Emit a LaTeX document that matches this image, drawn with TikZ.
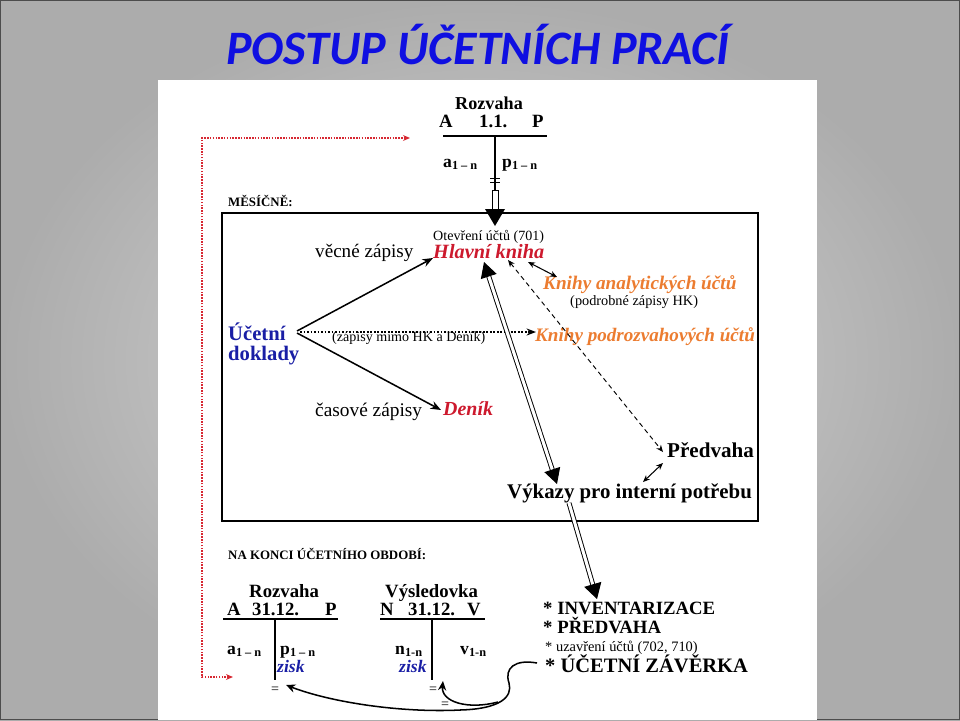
\documentclass[tikz,border=0pt]{standalone}
\usepackage{fontspec}
\setmainfont{Liberation Serif}
\newfontfamily\titlefont{Carlito}
\usetikzlibrary{arrows.meta}
\definecolor{hkred}{RGB}{205,25,45}
\definecolor{korange}{RGB}{236,124,48}
\definecolor{dblue}{RGB}{25,30,165}
\definecolor{ttlblue}{RGB}{15,15,225}
\definecolor{dotred}{RGB}{215,40,50}
\newcommand{\fsz}[1]{\fontsize{#1}{#1}\selectfont}
\newcommand{\subx}[1]{\raisebox{-0.3ex}{\fsz{10.5}#1}}
\begin{document}
\begin{tikzpicture}[x=0.03cm,y=-0.03cm,
  txt/.style={inner sep=0pt, anchor=base west},
  ctr/.style={inner sep=0pt, anchor=center},
  bld/.style={font=\bfseries\fsz{#1}},
  reg/.style={font=\fsz{#1}},
  bit/.style={font=\bfseries\itshape\fsz{#1}},
  sarrow/.style={line width=1.3pt, -{Stealth[length=9pt,width=7pt]}},
  twoarrow/.style={line width=0.9pt, {Stealth[length=6pt,width=5pt]}-{Stealth[length=6pt,width=5pt]}},
  dblline/.style={double, double distance=2.6pt, line width=0.8pt},
  bigtip/.style={-{Triangle[length=13pt,width=15pt]}},
  reddot/.style={dotred, line width=1.8pt, dash pattern=on 1.3pt off 1.1pt},
  tline/.style={line width=1.6pt}
]
\useasboundingbox (0,0) rectangle (960,720);
\shade[inner color={rgb,255:red,216;green,216;blue,216}, outer color={rgb,255:red,172;green,172;blue,172}] (0,0) rectangle (960,720);
\draw[gray!60!black, line width=0.8pt] (0.5,0.5) rectangle (959.5,719.5);
% title
\node[ctr, anchor=base, text=ttlblue, font=\titlefont\bfseries\itshape\fsz{41}] (title) at (478,64) {POSTUP ÚČETNÍCH PRACÍ};
% white panel
\fill[white] (158,80) rectangle (817,720);

% ---- top balance sheet
\node[txt, bld=15.5] (rozT) at (455,109) {Rozvaha};
\node[txt, bld=16] (rtA) at (439,127) {A};
\node[txt, bld=16] (rtD) at (479,127) {1.1.};
\node[txt, bld=16] (rtP) at (532,127) {P};
\node[txt, bld=15] (rta) at (443,167) {a\subx{1 – n}};
\node[txt, bld=15] (rtp) at (502,167) {p\subx{1 – n}};
\coordinate (rtL) at (443,136);
\coordinate (rtR) at (547,136);
\coordinate (rtT) at (495,136);
\coordinate (rtB) at (495,190);
\draw[tline] (rtL) -- (rtR);
\draw[tline] (rtT) -- (rtB);
\draw[line width=0.8pt] (490,178) -- (500,178) (490,182) -- (500,182);

% ---- monthly box
\node[txt, bld=11] (mes) at (228,206) {MĚSÍČNĚ:};
\draw[line width=1pt] (222,213) rectangle (758,521);
\node[txt, reg=12] (otv) at (433,240) {Otevření účtů (701)};
\node[txt, bit=17.3, text=hkred] (hk) at (433,258) {Hlavní kniha};
\node[txt, reg=16.3] (vec) at (315,257) {věcné zápisy};
\node[txt, bit=16.4, text=korange] (kan) at (543,289) {Knihy analytických účtů};
\node[txt, reg=12.2] (pod) at (570,305) {(podrobné zápisy HK)};
\node[txt, bld=17.6, text=dblue] (uc) at (228,340) {Účetní};
\node[txt, bld=17.6, text=dblue] (dok) at (228,360) {doklady};
\node[txt, reg=12] (mimo) at (332,341) {(zápisy mimo HK a Deník)};
\node[txt, bit=16.3, text=korange] (kpod) at (535,341) {Knihy podrozvahových účtů};
\node[txt, reg=16.5] (cas) at (315,416) {časové zápisy};
\node[txt, bit=17, text=hkred] (den) at (443,415) {Deník};
\node[txt, bld=18] (pred) at (667,457) {Předvaha};
\node[txt, bld=17.8] (vyk) at (507,498) {Výkazy pro interní potřebu};

% top arrow into main book
\coordinate (otvS) at (495,209);
\coordinate (otvT) at (495,226);
\draw[line width=0.8pt] (492,190) rectangle (498.5,209.5);
\fill (485,209) -- (505,209) -- (otvT) -- cycle;

% connector end points
\coordinate (ucA) at (297,331);
\coordinate (ucB) at (297,333);
\coordinate (ucC) at (300,332);
\coordinate (hkL) at (433,258);
\coordinate (denL) at (441,410);
\coordinate (kpodL) at (536,332);
\coordinate (hkB1) at (484,262);
\coordinate (vykT) at (557,484);
\coordinate (hkB2) at (508,260);
\coordinate (predL) at (663,452);
\coordinate (hkB3) at (528,262);
\coordinate (kanT) at (557,277);
\coordinate (predB) at (663,463);
\coordinate (vykR) at (643,482);
\coordinate (vykB) at (569,503);
\coordinate (invT) at (597,599);

\draw[sarrow] (ucA) -- (hkL);
\draw[sarrow] (ucB) -- (denL);
\draw[line width=1.5pt, dash pattern=on 1.5pt off 1.5pt, -{Stealth[length=8pt,width=6pt]}] (ucC) -- (kpodL);
\draw[dblline, {Triangle[length=13pt,width=14pt]}-{Triangle[length=13pt,width=14pt]}] (hkB1) -- (vykT);
\draw[line width=0.8pt, dash pattern=on 4pt off 3pt, {Stealth[length=6pt,width=5pt]}-{Stealth[length=6pt,width=5pt]}] (hkB2) -- (predL);
\draw[twoarrow] (hkB3) -- (kanT);
\draw[twoarrow] (predB) -- (vykR);
\draw[dblline, bigtip] (vykB) -- (invT);

% ---- end of period
\node[txt, bld=11] (nak) at (228,559) {NA KONCI ÚČETNÍHO OBDOBÍ:};
\node[txt, bld=16] (rozB) at (249,597) {Rozvaha};
\node[txt, bld=16] (rbA) at (227,615) {A};
\node[txt, bld=16] (rbD) at (252,615) {31.12.};
\node[txt, bld=16] (rbP) at (325,615) {P};
\node[txt, bld=16] (vys) at (385,597) {Výsledovka};
\node[txt, bld=16] (vsN) at (380,615) {N};
\node[txt, bld=16] (vsD) at (408,615) {31.12.};
\node[txt, bld=16] (vsV) at (467,615) {V};
\coordinate (rbL) at (223,619);
\coordinate (rbR) at (338,619);
\coordinate (rbT) at (275,619);
\coordinate (rbB) at (275,680);
\coordinate (vsL) at (380,619);
\coordinate (vsR) at (485,619);
\coordinate (vsT) at (432,619);
\coordinate (vsB) at (432,680);
\draw[tline] (rbL) -- (rbR);
\draw[tline] (rbT) -- (rbB);
\draw[tline] (vsL) -- (vsR);
\draw[tline] (vsT) -- (vsB);
\node[txt, bld=15] (rba) at (227,654) {a\subx{1 – n}};
\node[txt, bld=15] (rbp) at (280,654) {p\subx{1 – n}};
\node[txt, bld=15] (vsn) at (395,654) {n\subx{1-n}};
\node[txt, bld=15] (vsv) at (460,654) {v\subx{1-n}};
\node[txt, bit=15, text=dblue] (zis1) at (277,672) {zisk};
\node[txt, bit=15, text=dblue] (zis2) at (399,672) {zisk};
\node[ctr, reg=12] (eq1) at (275,690) {=};
\node[ctr, reg=12] (eq2) at (433,690) {=};
\node[ctr, reg=12] (eq3) at (445,705) {=};

\node[txt, bld=16] (inv) at (543,614) {* INVENTARIZACE};
\node[txt, bld=16] (prv) at (543,633) {* PŘEDVAHA};
\node[txt, reg=12.3] (uza) at (545,651) {* uzavření účtů (702, 710)};
\node[txt, bld=17.5] (zav) at (545,672) {* ÚČETNÍ ZÁVĚRKA};

% closing curve
\coordinate (zavL) at (537,663);
\coordinate (eq1R) at (286,685);
\coordinate (eq2B) at (443,681);
\coordinate (brn) at (498,702);
\draw[line width=1.3pt, -{Stealth[length=8pt,width=7pt]}]
  (zavL) .. controls (515,659) and (504,668) .. (509,683)
  .. controls (513,697) and (500,709) .. (460,710)
  .. controls (400,713) and (330,702) .. (eq1R);
\draw[line width=1.3pt, -{Stealth[length=8pt,width=7pt]}]
  (brn) .. controls (468,710) and (441,702) .. (eq2B);

% red dotted feedback
\coordinate (redA) at (233,677);
\coordinate (redB) at (410,138);
\draw[reddot, {Stealth[length=6pt,width=5pt]}-{Stealth[length=6pt,width=5pt]}] (redA) -| (202,138) -- (redB);
\end{tikzpicture}
\end{document}
